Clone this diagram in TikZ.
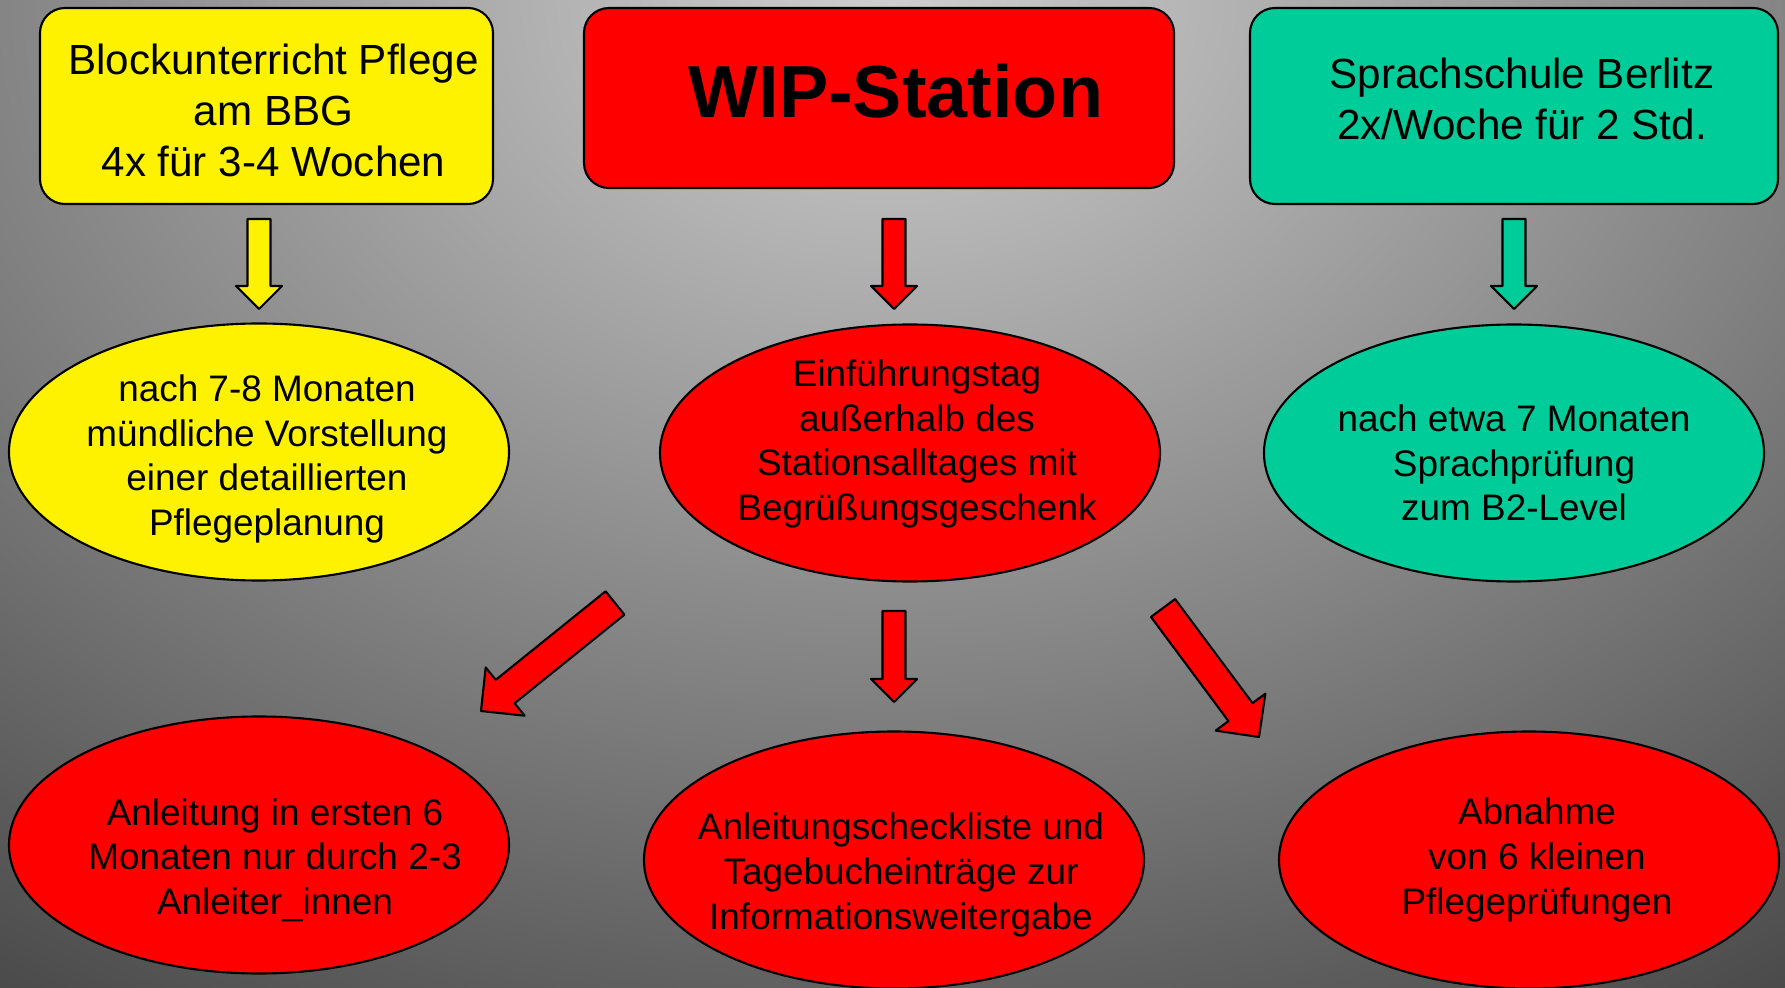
\documentclass[tikz,border=0pt]{standalone}
\usepackage{fontspec}
\setmainfont{Liberation Sans}
\usetikzlibrary{calc,shapes.geometric}

\definecolor{bgin}{RGB}{206,206,206}
\definecolor{bgout}{RGB}{60,60,60}
\definecolor{sprgreen}{RGB}{0,204,153}

% fat arrow: fill, tail, tip, half shaft width, half head width
\newcommand{\blockarrow}[5]{%
  \coordinate (neck) at ($(#3)!#5!(#2)$);
  \draw[fill=#1] ($(#2)!#4!90:(#3)$) -- ($(neck)!#4!90:(#3)$) -- ($(neck)!#5!90:(#3)$) -- (#3)
    -- ($(neck)!#5!-90:(#3)$) -- ($(neck)!#4!-90:(#3)$) -- ($(#2)!#4!-90:(#3)$) -- cycle;}

\begin{document}
\begin{tikzpicture}[line join=round, line width=0.6pt,
    box/.style={draw, rounded corners=0.25cm, inner sep=0pt},
    oval/.style={draw, ellipse, inner sep=0pt, minimum width=5cm, minimum height=2.57cm},
    boxtext/.style={align=center, inner sep=0pt, font=\fontsize{12}{14.5}\selectfont},
    ovaltext/.style={align=center, inner sep=0pt, font=\fontsize{10.5}{12.7}\selectfont}]
			\useasboundingbox (0,0) rectangle (17.85,9.87);
			\begin{scope}
			\clip (0,0) rectangle (17.85,9.87);
			\shade[inner color=bgin, outer color=bgout] (-8.8,-3.34) rectangle (26.6,23.08);
			\end{scope}
			% top row
			\node[box, fill=yellow, minimum width=4.53cm, minimum height=1.96cm] (blk) at (2.665,8.81) {};
			\node[box, fill=red, minimum width=5.90cm, minimum height=1.80cm] (wip) at (8.79,8.89) {};
			\node[box, fill=sprgreen, minimum width=5.28cm, minimum height=1.96cm] (spr) at (15.14,8.81) {};
			\node[boxtext] (blk-t) at ($(blk)+(0.07,-0.045)$) {Blockunterricht Pflege\\am BBG\\4x für 3-4 Wochen};
			\node[boxtext, font=\bfseries\fontsize{21}{25}\selectfont] (wip-t) at ($(wip)+(0.17,0.07)$) {WIP-Station};
			\node[boxtext] (spr-t) at ($(spr)+(0.08,0.07)$) {Sprachschule Berlitz\\2x/Woche für 2 Std.};
			% middle row
			\node[oval, fill=yellow] (pfl) at (2.59,5.35) {};
			\node[oval, fill=red] (ein) at (9.10,5.34) {};
			\node[oval, fill=sprgreen] (spp) at (15.14,5.34) {};
			\node[ovaltext] (pfl-t) at ($(pfl)+(0.08,-0.07)$) {nach 7-8 Monaten\\mündliche Vorstellung\\einer detaillierten\\Pflegeplanung};
			\node[ovaltext] (ein-t) at ($(ein)+(0.07,0.09)$) {Einführungstag\\außerhalb des\\Stationsalltages mit\\Begrüßungsgeschenk};
			\node[ovaltext] (spp-t) at ($(spp)+(0,-0.10)$) {nach etwa 7 Monaten\\Sprachprüfung\\zum B2-Level};
			% bottom row
			\node[oval, fill=red] (anl) at (2.59,1.42) {};
			\node[oval, fill=red] (chk) at (8.94,1.27) {};
			\node[oval, fill=red] (abn) at (15.29,1.27) {};
			\node[ovaltext] (anl-t) at ($(anl)+(0.16,-0.15)$) {Anleitung in ersten 6\\Monaten nur durch 2-3\\Anleiter\_innen};
			\node[ovaltext] (chk-t) at ($(chk)+(0.07,-0.15)$) {Anleitungscheckliste und\\Tagebucheinträge zur\\Informationsweitergabe};
			\node[ovaltext] (abn-t) at ($(abn)+(0.08,0)$) {Abnahme\\von 6 kleinen\\Pflegeprüfungen};
			% arrows
			\coordinate (t1) at (2.59,7.68); \coordinate (h1) at (2.59,6.78);
			\coordinate (t2) at (8.94,7.68); \coordinate (h2) at (8.94,6.78);
			\coordinate (t3) at (15.14,7.68); \coordinate (h3) at (15.14,6.78);
			\coordinate (t4) at (8.94,3.76); \coordinate (h4) at (8.94,2.85);
			\coordinate (t5) at (6.15,3.84); \coordinate (h5) at (4.81,2.76);
			\coordinate (t6) at (11.63,3.79); \coordinate (h6) at (12.59,2.50);
			\blockarrow{yellow}{t1}{h1}{0.115cm}{0.23cm}
			\blockarrow{red}{t2}{h2}{0.115cm}{0.23cm}
			\blockarrow{sprgreen}{t3}{h3}{0.115cm}{0.23cm}
			\blockarrow{red}{t4}{h4}{0.115cm}{0.23cm}
			\blockarrow{red}{t5}{h5}{0.15cm}{0.31cm}
			\blockarrow{red}{t6}{h6}{0.15cm}{0.31cm}
\end{tikzpicture}
\end{document}
